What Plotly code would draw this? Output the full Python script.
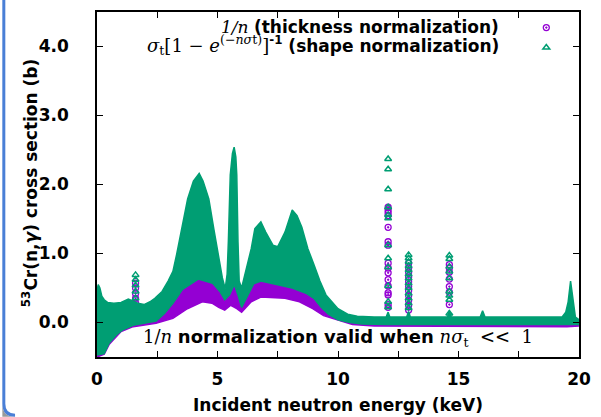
import plotly.graph_objects as go

# ---------------- data ----------------
# Shape-normalised band (green): upper / lower envelope of the scattered points
green_hi_e = [0.0, 0.05, 0.12, 0.2, 0.3, 0.45, 0.7, 1.0, 1.3, 1.45, 1.7, 1.95, 2.2, 2.4, 2.7, 2.95,
              3.15, 3.3, 3.48, 3.76, 4.0, 4.24, 4.4, 4.64, 4.85, 5.05, 5.2, 5.32, 5.4, 5.45, 5.53,
              5.62, 5.69, 5.76, 5.8, 5.85, 5.9, 6.0, 6.2, 6.4, 6.55, 6.8, 7.0, 7.3, 7.5, 7.8, 8.1,
              8.3, 8.5, 8.75, 9.0, 9.25, 9.5, 9.75, 10.0, 10.4, 10.8, 11.5, 12.0, 12.08, 12.15,
              12.85, 12.93, 13.0, 14.55, 14.62, 14.7, 15.9, 16.0, 16.1, 19.3, 19.45, 19.55, 19.65,
              19.75, 19.85, 20.0]
green_hi = [0.45, 0.55, 0.5, 0.38, 0.33, 0.29, 0.28, 0.29, 0.34, 0.32, 0.28, 0.26, 0.3, 0.35, 0.45, 0.6,
            0.74, 0.98, 1.31, 1.79, 2.05, 2.16, 2.05, 1.79, 1.35, 0.98, 0.65, 0.49, 0.7, 1.17, 2.14,
            2.45, 2.54, 2.4, 2.14, 1.17, 0.6, 0.5, 0.78, 1.07, 1.36, 1.46, 1.31, 1.12, 1.1, 1.31, 1.63,
            1.55, 1.38, 1.07, 0.84, 0.6, 0.4, 0.3, 0.2, 0.12, 0.09, 0.08, 0.08, 0.15, 0.08,
            0.08, 0.16, 0.08, 0.08, 0.17, 0.08, 0.08, 0.17, 0.08, 0.08, 0.15, 0.3, 0.6,
            0.35, 0.08, 0.04]
green_lo_e = [0.0, 0.3, 0.5, 0.8, 1.05, 1.5, 2.0, 2.45, 2.8, 3.15, 3.55, 4.2, 4.8, 5.1, 5.3, 5.5, 5.7,
              5.85, 6.0, 6.2, 6.5, 6.8, 7.5, 8.1, 8.7, 9.0, 9.3, 9.6, 10.0, 10.5, 11.0, 12.0, 20.0]
green_lo = [-0.47, -0.45, -0.3, -0.18, -0.11, -0.04, -0.01, 0.02, 0.13, 0.28, 0.48, 0.63, 0.57, 0.45,
            0.33, 0.4, 0.55, 0.4, 0.22, 0.35, 0.56, 0.6, 0.55, 0.5, 0.42, 0.35, 0.22, 0.12, 0.04,
            0.0, -0.02, -0.03, -0.03]

# Thickness-normalised band (purple)
purple_hi_e = [0.0, 2.0, 2.45, 2.8, 3.15, 3.5, 4.17, 4.5, 4.83, 5.1, 5.23, 5.4, 5.6, 5.75, 5.9, 6.05,
               6.3, 6.6, 7.0, 7.85, 8.4, 8.8, 9.1, 9.5, 10.0, 10.5, 11.0, 19.7, 19.85, 20.0]
purple_hi = [0.1, 0.1, 0.1, 0.18, 0.32, 0.52, 0.66, 0.64, 0.6, 0.5, 0.42, 0.45, 0.7, 0.55, 0.32, 0.35,
             0.52, 0.62, 0.6, 0.53, 0.51, 0.45, 0.38, 0.2, 0.09, 0.03, 0.0, 0.0, 0.04, 0.02]
purple_lo_e = [0.0, 0.15, 0.3, 0.5, 1.0, 1.5, 2.0, 2.45, 3.15, 3.75, 4.37, 4.77, 5.05, 5.3, 5.55, 5.8,
               6.0, 6.4, 6.8, 7.8, 8.4, 8.95, 9.4, 10.0, 10.6, 11.5, 12.0, 19.5, 20.0]
purple_lo = [-0.5, -0.48, -0.46, -0.32, -0.13, -0.06, -0.03, -0.01, 0.06, 0.2, 0.3, 0.28, 0.22, 0.18,
             0.25, 0.2, 0.15, 0.3, 0.37, 0.35, 0.3, 0.2, 0.1, 0.03, -0.03, -0.05, -0.06, -0.06, -0.05]

# Isolated resonance points
purple_pts_e = [1.6] * 5 + [12.08] * 16 + [12.93] * 11 + [14.62] * 7
purple_pts = [0.57, 0.50, 0.42, 0.35, 0.28,
              1.67, 1.63, 1.59, 1.55, 1.38, 1.17, 1.12, 0.86, 0.79, 0.72, 0.62, 0.53, 0.43, 0.40, 0.26, 0.22,
              0.86, 0.79, 0.73, 0.66, 0.59, 0.52, 0.46, 0.39, 0.32, 0.25, 0.18,
              0.84, 0.79, 0.73, 0.63, 0.52, 0.44, 0.26]
green_pts_e = [1.6] * 5 + [12.08] * 12 + [12.93] * 13 + [14.62] * 9
green_pts = [0.69, 0.62, 0.54, 0.45, 0.35,
             2.37, 2.22, 1.93, 1.67, 1.56, 1.51, 1.12, 0.93, 0.80, 0.53, 0.30, 0.22,
             0.98, 0.93, 0.88, 0.82, 0.76, 0.70, 0.64, 0.57, 0.50, 0.42, 0.35, 0.28, 0.21,
             0.97, 0.92, 0.81, 0.74, 0.64, 0.45, 0.39, 0.33, 0.13]

x_tickvals = [0, 5, 10, 15, 20]
x_ticktext = ["0", "5", "10", "15", "20"]
y_tickvals = [0, 1, 2, 3, 4]
y_ticktext = ["0.0", "1.0", "2.0", "3.0", "4.0"]

GREEN = "#009E73"
PURPLE = "#9400D3"
SANS = "DejaVu Sans"
SERIF = "DejaVu Serif"

W, H = 601, 417
ML, MR, MT, MB = 97, 10, 11, 60
PW, PH = W - ML - MR, H - MT - MB


def px2x(px):
    return (px - ML) / PW


def py2y(py):
    return (H - MB - py) / PH


fig = go.Figure()

# purple band
fig.add_trace(go.Scatter(
    x=purple_hi_e + purple_lo_e[::-1], y=purple_hi + purple_lo[::-1],
    fill="toself", fillcolor=PURPLE, mode="lines", line=dict(color=PURPLE, width=1.5),
    showlegend=False, hoverinfo="skip"))
fig.add_trace(go.Scatter(
    x=purple_pts_e, y=purple_pts, mode="markers", name=" ", legend="legend",
    marker=dict(symbol="circle-open-dot", size=6, color=PURPLE, line=dict(width=1.3)),
    showlegend=True))
# green band
fig.add_trace(go.Scatter(
    x=green_hi_e + green_lo_e[::-1], y=green_hi + green_lo[::-1],
    fill="toself", fillcolor=GREEN, mode="lines", line=dict(color=GREEN, width=1.5),
    showlegend=False, hoverinfo="skip"))
fig.add_trace(go.Scatter(
    x=green_pts_e, y=green_pts, mode="markers", name=" ", legend="legend2",
    marker=dict(symbol="triangle-up-open", size=6, color=GREEN, line=dict(width=1.5)),
    showlegend=True))

axis_common = dict(showline=True, linecolor="black", linewidth=1.5, mirror="ticks",
                   ticks="inside", ticklen=6, tickwidth=1.2, tickcolor="black",
                   showgrid=False, zeroline=False,
                   tickfont=dict(family=SANS, size=17, color="black", weight="bold"))

leg_common = dict(xanchor="left", yanchor="top", bgcolor="rgba(0,0,0,0)",
                  font=dict(size=14), itemwidth=30)

fig.update_layout(
    width=W, height=H,
    margin=dict(l=ML, r=MR, t=MT, b=MB),
    paper_bgcolor="white", plot_bgcolor="white",
    xaxis=dict(range=[0, 20], tickvals=x_tickvals, ticktext=x_ticktext,
               minor=dict(dtick=2.5, ticks="inside", ticklen=6, tickwidth=1.2,
                          tickcolor="black"),
               ticklabelstandoff=6, **axis_common),
    yaxis=dict(range=[-0.5, 4.5], tickvals=y_tickvals, ticktext=y_ticktext,
               ticklabelstandoff=23, **axis_common),
    legend=dict(x=px2x(537), y=py2y(11), **leg_common),
    legend2=dict(x=px2x(537), y=py2y(31), **leg_common),
)

math = "font-family:%s;font-weight:normal" % SERIF
legend1 = ("<span style='%s'><i>1/n</i></span> <b>(thickness normalization)</b>" % math)
legend2 = ("<span style='%s;font-size:18px'><i>σ</i><sub>t</sub>[1 − <i>e</i><sup>(−<i>nσ</i>t)</sup>]</span>"
           "<b><sup>-1</sup> (shape normalization)</b>" % math)
bottom = ("<span style='%s'>1/<i>n</i></span> <b>normalization valid when</b> "
          "<span style='%s'><i>nσ</i><sub>t</sub>  &lt;&lt;  1</span>" % (math, math))

fig.add_annotation(x=px2x(511), y=py2y(26), xref="paper", yref="paper", xanchor="right",
                   yanchor="middle", showarrow=False, text=legend1,
                   font=dict(family=SANS, size=17, color="black"))
fig.add_annotation(x=px2x(511), y=py2y(44), xref="paper", yref="paper", xanchor="right",
                   yanchor="middle", showarrow=False, text=legend2,
                   font=dict(family=SANS, size=17, color="black"))
fig.add_annotation(x=px2x(344), y=py2y(338), xref="paper", yref="paper", xanchor="center",
                   yanchor="middle", showarrow=False, text=bottom,
                   font=dict(family=SANS, size=18, color="black"))
fig.add_annotation(x=px2x(344), y=py2y(405), xref="paper", yref="paper", xanchor="center",
                   yanchor="middle", showarrow=False,
                   text="<b>Incident neutron energy (keV)</b>",
                   font=dict(family=SANS, size=17, color="black"))
fig.add_annotation(x=px2x(28), y=py2y(183), xref="paper", yref="paper", xanchor="center",
                   yanchor="middle", showarrow=False, textangle=-90,
                   text="<b><sup>53</sup>Cr(n,<i>γ</i>) cross section (b)</b>",
                   font=dict(family=SANS, size=17, color="black"))

# slide frame on the left edge
fig.add_shape(type="path", xref="paper", yref="paper",
              path="M %f,%f Q %f,%f %f,%f L %f,%f Z" % (
                  px2x(0), py2y(404), px2x(0), py2y(417), px2x(13), py2y(417), px2x(0), py2y(417)),
              fillcolor="#9a9a9a", line=dict(width=0), layer="above")
fig.add_shape(type="path", xref="paper", yref="paper",
              path="M %f,%f L %f,%f Q %f,%f %f,%f" % (
                  px2x(1.5), py2y(-2), px2x(1.5), py2y(404), px2x(1.5), py2y(415.5),
                  px2x(13), py2y(415.5)),
              line=dict(color="#4a7fd6", width=3), layer="above")

fig.write_html("out.html", config={"displayModeBar": False},
               post_script="document.body.style.margin='0px';")
